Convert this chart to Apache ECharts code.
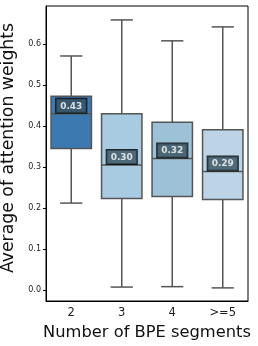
<!DOCTYPE html>
<html><head><meta charset="utf-8">
<script src="https://cdn.jsdelivr.net/npm/echarts@6/dist/echarts.min.js"></script>
<style>html,body{margin:0;padding:0;background:#fff}#c{width:258px;height:346px}</style>
</head><body><div id="c"></div>
<script>
const categories = ['2', '3', '4', '>=5'];
const whiskerLow = [0.212, 0.007, 0.008, 0.005];
const q1 = [0.345, 0.223, 0.228, 0.221];
const median = [0.43, 0.305, 0.321, 0.289];
const q3 = [0.473, 0.430, 0.409, 0.391];
const whiskerHigh = [0.571, 0.659, 0.608, 0.642];
const medianLabels = ['0.43', '0.30', '0.32', '0.29'];
const boxColors = ['#3b79b0', '#a9cbe1', '#9dc2d8', '#bdd4e6'];
const yTicks = [0.0, 0.1, 0.2, 0.3, 0.4, 0.5, 0.6];

const data = categories.map((c, i) => [i, whiskerLow[i], q1[i], median[i], q3[i], whiskerHigh[i]]);
const edge = '#555555';

const chart = echarts.init(document.getElementById('c'), null, {renderer: 'canvas'});
chart.setOption({
  animation: false,
  grid: {left: 46, right: 10, top: 6, bottom: 45, show: true, borderColor: '#000', borderWidth: 1,
    containLabel: false, outerBoundsMode: 'none'},
  xAxis: {
    type: 'category', data: categories, boundaryGap: true,
    name: 'Number of BPE segments', nameLocation: 'middle', nameGap: 24,
    nameTextStyle: {fontSize: 16.3, color: '#111', fontFamily: 'DejaVu Sans'},
    axisLine: {onZero: false, lineStyle: {color: '#000', width: 1}},
    axisTick: {alignWithLabel: true, length: 3, lineStyle: {color: '#000'}},
    axisLabel: {fontSize: 11.5, color: '#222', margin: 6, fontFamily: 'DejaVu Sans'}
  },
  yAxis: {
    type: 'value', min: -0.027, max: 0.693,
    name: 'Average of attention weights', nameLocation: 'middle', nameGap: 22,
    nameTextStyle: {fontSize: 17.3, color: '#111', fontFamily: 'DejaVu Sans', padding: [0, 0, 0, 11]},
    axisLine: {show: true, lineStyle: {color: '#000', width: 1}},
    axisTick: {show: true, length: 3, customValues: yTicks, lineStyle: {color: '#000'}},
    axisLabel: {fontSize: 8, color: '#222', margin: 5, customValues: yTicks, fontFamily: 'DejaVu Sans',
      formatter: v => v.toFixed(1)},
    splitLine: {show: false}
  },
  series: [{
    type: 'custom',
    data: data,
    encode: {x: 0, y: [1, 2, 3, 4, 5]},
    renderItem: function (params, api) {
      const i = api.value(0);
      const x = api.coord([i, 0])[0];
      const bw = api.size([1, 0])[0] * 0.8;
      const capW = bw * 0.55;
      const yLo = api.coord([i, api.value(1)])[1];
      const yQ1 = api.coord([i, api.value(2)])[1];
      const yMed = api.coord([i, api.value(3)])[1];
      const yQ3 = api.coord([i, api.value(4)])[1];
      const yHi = api.coord([i, api.value(5)])[1];
      const ls = {stroke: edge, lineWidth: 1.5, fill: null};
      return {
        type: 'group',
        children: [
          {type: 'line', shape: {x1: x, y1: yHi, x2: x, y2: yQ3}, style: ls},
          {type: 'line', shape: {x1: x, y1: yQ1, x2: x, y2: yLo}, style: ls},
          {type: 'line', shape: {x1: x - capW / 2, y1: yHi, x2: x + capW / 2, y2: yHi}, style: ls},
          {type: 'line', shape: {x1: x - capW / 2, y1: yLo, x2: x + capW / 2, y2: yLo}, style: ls},
          {type: 'rect', shape: {x: x - bw / 2, y: yQ3, width: bw, height: yQ1 - yQ3},
            style: {fill: boxColors[i], stroke: edge, lineWidth: 1.5}},
          {type: 'line', shape: {x1: x - bw / 2, y1: yMed, x2: x + bw / 2, y2: yMed}, style: ls}
        ]
      };
    }
  }, {
    type: 'scatter',
    symbolSize: 0,
    data: categories.map((c, i) => [i, median[i]]),
    label: {
      show: true, position: 'top', distance: 1,
      formatter: p => medianLabels[p.dataIndex],
      color: '#fff', fontWeight: 'bold', fontSize: 9, fontFamily: 'DejaVu Sans',
      backgroundColor: '#37505e', borderColor: '#000', borderWidth: 1,
      padding: [3, 4, 2, 4]
    },
    z: 5
  }]
});
</script></body></html>
